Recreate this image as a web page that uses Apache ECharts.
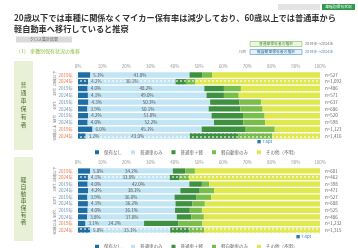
<!DOCTYPE html>
<html>
<head>
<meta charset="utf-8">
<script src="https://cdn.jsdelivr.net/npm/echarts@6/dist/echarts.min.js"></script>
<style>
  html, body { margin: 0; padding: 0; background: #fff; }
  #main { width: 358px; height: 248px; }
</style>
</head>
<body>
<div id="main"></div>
<script>
// 車種別 マイカー保有状況（普通車保有者 / 軽自動車保有者）
const seriesNames = ['保有なし', '普通車のみ', '普通車＋軽', '軽自動車のみ', 'その他（不明）']
const colors = ['#1f6ea3', '#c2e5f6', '#3d9140', '#79bd4a', '#dfe84e']

const groups = ['20歳以下', '30代', '40代', '50代', '60歳以上']
const rowLabels = ['2019年', '2024年', '2019年', '2024年', '2019年', '2024年', '2019年', '2024年', '2019年', '2024年']
const ticks = ['0%', '10%', '20%', '30%', '40%', '50%', '60%', '70%', '80%', '90%', '100%']

const nTop = ['n=527', 'n=1,092', 'n=486', 'n=571', 'n=637', 'n=686', 'n=520', 'n=598', 'n=1,123', 'n=1,416']
const nBottom = ['n=601', 'n=462', 'n=398', 'n=471', 'n=527', 'n=688', 'n=525', 'n=486', 'n=1,232', 'n=1,315']

// 普通車保有者（上段） 各系列の割合
const topNone   = [5.1, 4.2, 4.0, 4.1, 4.3, 3.9, 4.2, 4.0, 6.0, 3.2]
const topFutsu  = [41.0, 36.1, 48.2, 49.0, 50.3, 50.1, 51.0, 52.2, 45.1, 43.0]
const topBoth   = [5.2, 4.3, 8.1, 7.2, 12.0, 13.1, 13.0, 12.1, 18.2, 20.1]
const topKei    = [4.1, 3.9, 7.0, 6.1, 9.0, 9.2, 8.9, 9.1, 12.0, 14.0]
const topOther  = [44.6, 51.5, 32.7, 33.6, 24.4, 23.7, 22.9, 22.6, 18.7, 19.7]

// 軽自動車保有者（下段）
const botNone   = [5.0, 4.1, 4.0, 4.2, 3.9, 4.1, 4.0, 3.8, 3.1, 5.0]
const botFutsu  = [34.2, 33.8, 42.0, 38.1, 36.0, 36.2, 36.1, 37.0, 24.2, 33.1]
const botBoth   = [5.1, 4.0, 5.2, 8.0, 9.1, 7.0, 6.1, 6.0, 14.1, 8.0]
const botKei    = [4.0, 4.1, 3.0, 6.0, 6.1, 5.1, 5.0, 5.2, 10.0, 6.0]
const botOther  = [51.7, 54.0, 45.8, 43.7, 44.9, 47.6, 48.8, 48.0, 48.6, 47.9]

const topData = [topNone, topFutsu, topBoth, topKei, topOther]
const botData = [botNone, botFutsu, botBoth, botKei, botOther]
const dashedRows = [1, 9]

const chart = echarts.init(document.getElementById('main'), null, { renderer: 'canvas' })
const FONT = '"Noto Sans CJK JP", "Noto Sans", sans-serif'

function toItems(arr) {
  return arr.map((v, i) => {
    if (dashedRows.indexOf(i) < 0) return v
    return {
      value: v,
      itemStyle: {
        decal: {
          symbol: 'rect',
          symbolSize: 1,
          dashArrayX: [2, 1.5],
          dashArrayY: [1.2, 1.4],
          color: 'rgba(255,255,255,0.55)'
        }
      }
    }
  })
}

function makeSeries(data, gridIdx) {
  return data.map((arr, k) => {
    let label = { show: false }
    if (k === 0) {
      label = { show: true, position: 'right', distance: 3, fontSize: 4.5, color: '#555', fontFamily: FONT,
        formatter: p => p.value.toFixed(1) + '%' }
    } else if (k === 1) {
      label = { show: true, position: 'inside', fontSize: 4.5, color: '#555', fontFamily: FONT,
        formatter: p => p.value.toFixed(1) + '%' }
    }
    return {
      name: seriesNames[k],
      type: 'bar',
      stack: 'g' + gridIdx,
      xAxisIndex: gridIdx,
      yAxisIndex: gridIdx * 3,
      barCategoryGap: '20%',
      itemStyle: { color: colors[k] },
      label: label,
      data: toItems(arr)
    }
  })
}

function xAxisFor(gridIdx) {
  return {
    gridIndex: gridIdx,
    type: 'value',
    min: 0,
    max: 100,
    interval: 10,
    position: 'top',
    axisLine: { show: false },
    axisTick: { show: false },
    splitLine: { show: false },
    axisLabel: { fontSize: 4.5, color: '#999', margin: 3, fontFamily: FONT,
      formatter: v => ticks[Math.round(v / 10)] }
  }
}

function yAxesFor(gridIdx, nLabels) {
  return [
    {
      gridIndex: gridIdx, type: 'category', inverse: true, data: rowLabels,
      axisLine: { show: false }, axisTick: { show: false },
      axisLabel: { interval: 0, fontSize: 4.5, margin: 5, fontFamily: FONT,
        color: (v, i) => (i < 2 || i > 7) ? '#e0774a' : '#6a8fb0' }
    },
    {
      gridIndex: gridIdx, type: 'category', inverse: true, position: 'right', data: nLabels,
      axisLine: { show: false }, axisTick: { show: false },
      axisLabel: { interval: 0, fontSize: 4.5, color: '#666', margin: 5, fontFamily: FONT }
    },
    {
      gridIndex: gridIdx, type: 'category', inverse: true, position: 'left', offset: 22, data: groups,
      axisLine: { show: false }, axisTick: { show: false },
      axisLabel: { interval: 0, fontSize: 3.8, color: '#777', margin: 0, rotate: 90, fontFamily: FONT }
    }
  ]
}

function legendAt(top) {
  return {
    top: top, left: 90,
    itemWidth: 4, itemHeight: 4, itemGap: 9,
    icon: 'rect',
    textStyle: { fontSize: 4.5, color: '#666', fontFamily: FONT },
    data: seriesNames
  }
}

function vertical(s) { return s.split('').join('\n') }

let option = {
  backgroundColor: '#fff',
  animation: false,
  textStyle: { fontFamily: FONT },
  grid: [
    { left: 78, right: 38, top: 71.6, height: 67.8 },
    { left: 78, right: 38, top: 167.7, height: 65.6 }
  ],
  xAxis: [xAxisFor(0), xAxisFor(1)],
  yAxis: yAxesFor(0, nTop).concat(yAxesFor(1, nBottom)),
  legend: [legendAt(145), legendAt(239.5)],
  series: makeSeries(topData, 0).concat(makeSeries(botData, 1)),
  graphic: [
    // 右上のタグ
    { type: 'rect', shape: { x: 278, y: 4, width: 42, height: 6 }, style: { fill: '#e3e3e3' } },
    { type: 'rect', shape: { x: 322, y: 4, width: 33, height: 6 }, style: { fill: '#2f9a4c' } },
    { type: 'text', style: { x: 338.5, y: 7, text: '車種別保有状況', fontSize: 3.8, fill: '#fff', align: 'center', verticalAlign: 'middle', fontFamily: FONT } },
    // タイトル
    { type: 'text', style: { x: 14, y: 18, text: '20歳以下では車種に関係なくマイカー保有率は減少しており、60歳以上では普通車から',
      fontSize: 8.2, fontWeight: 'bold', fill: '#333', verticalAlign: 'middle', fontFamily: FONT } },
    { type: 'text', style: { x: 14, y: 29, text: '軽自動車へ移行していると推察',
      fontSize: 8.2, fontWeight: 'bold', fill: '#333', verticalAlign: 'middle', fontFamily: FONT } },
    { type: 'rect', shape: { x: 16, y: 36.5, width: 56, height: 6 }, style: { fill: '#d9d9d9' } },
    { type: 'text', style: { x: 44, y: 39.5, text: 'クロス集計結果', fontSize: 4, fill: '#666', align: 'center', verticalAlign: 'middle', fontFamily: FONT } },
    { type: 'text', style: { x: 16, y: 51, text: '〔1〕 車種別保有状況の推移', fontSize: 5, fill: '#8cbf3f', verticalAlign: 'middle', fontFamily: FONT } },
    // 右側の凡例ボックス
    { type: 'text', style: { x: 246, y: 52, text: '凡例', fontSize: 3.8, fill: '#888', align: 'right', verticalAlign: 'middle', fontFamily: FONT } },
    { type: 'rect', shape: { x: 250, y: 41.5, width: 52, height: 5 }, style: { fill: '#eef6e4', stroke: '#7cbf5a', lineWidth: 0.6 } },
    { type: 'text', style: { x: 276, y: 44, text: '普通車保有者の推移', fontSize: 3.8, fill: '#4a8f3a', align: 'center', verticalAlign: 'middle', fontFamily: FONT } },
    { type: 'text', style: { x: 305, y: 44, text: '2019年→2024年', fontSize: 3.8, fill: '#777', verticalAlign: 'middle', fontFamily: FONT } },
    { type: 'rect', shape: { x: 250, y: 49.5, width: 52, height: 5 }, style: { fill: '#e5f1fa', stroke: '#4a8cc4', lineWidth: 0.6 } },
    { type: 'text', style: { x: 276, y: 52, text: '軽自動車保有者の推移', fontSize: 3.8, fill: '#2d6fa5', align: 'center', verticalAlign: 'middle', fontFamily: FONT } },
    { type: 'text', style: { x: 305, y: 52, text: '2019年→2024年', fontSize: 3.8, fill: '#5a8ab5', verticalAlign: 'middle', fontFamily: FONT } },
    // 左の区分ラベル
    { type: 'rect', shape: { x: 14, y: 61, width: 19, height: 89 }, style: { fill: '#e8f1d6' } },
    { type: 'text', style: { x: 23.5, y: 105, text: vertical('普通車保有者'), fontSize: 6, lineHeight: 8, fill: '#4f6f3a', align: 'center', verticalAlign: 'middle', fontFamily: FONT } },
    { type: 'rect', shape: { x: 14, y: 157, width: 19, height: 84 }, style: { fill: '#e8f1d6' } },
    { type: 'text', style: { x: 23.5, y: 201, text: vertical('軽自動車保有者'), fontSize: 6, lineHeight: 7, fill: '#4f6f3a', align: 'center', verticalAlign: 'middle', fontFamily: FONT } },
    // 注記
    { type: 'text', style: { x: 257, y: 141, text: '■ 7.4pt', fontSize: 4.2, fill: '#2a7ab0', verticalAlign: 'middle', fontFamily: FONT } },
    { type: 'text', style: { x: 296, y: 236.5, text: '■ 7.4pt', fontSize: 4.2, fill: '#2a7ab0', verticalAlign: 'middle', fontFamily: FONT } }
  ]
}

chart.setOption(option)
</script>
</body>
</html>
